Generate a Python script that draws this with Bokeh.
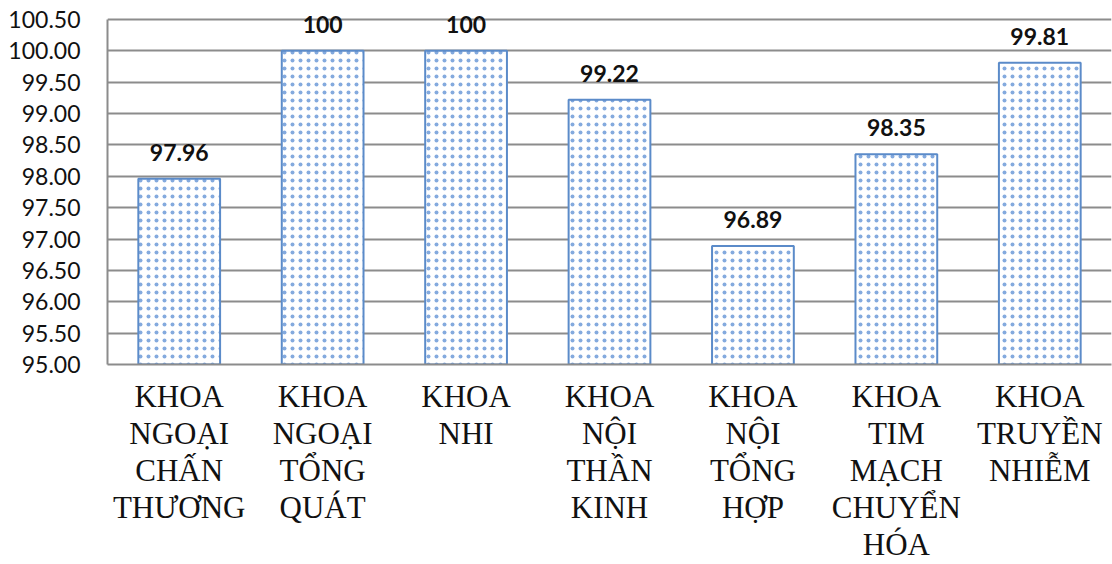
from bokeh.plotting import figure
from bokeh.models import ColumnDataSource, Range1d, FixedTicker, LabelSet, NumeralTickFormatter
from bokeh.core.properties import value
from bokeh.embed import file_html
from bokeh.resources import INLINE

categories = [
    "KHOA\nNGOẠI\nCHẤN\nTHƯƠNG",
    "KHOA\nNGOẠI\nTỔNG\nQUÁT",
    "KHOA\nNHI",
    "KHOA\nNỘI\nTHẦN\nKINH",
    "KHOA\nNỘI\nTỔNG\nHỢP",
    "KHOA\nTIM\nMẠCH\nCHUYỂN\nHÓA",
    "KHOA\nTRUYỀN\nNHIỄM",
]
values = [97.96, 100, 100, 99.22, 96.89, 98.35, 99.81]
value_labels = ["97.96", "100", "100", "99.22", "96.89", "98.35", "99.81"]
y_ticks = [95.0, 95.5, 96.0, 96.5, 97.0, 97.5, 98.0, 98.5, 99.0, 99.5, 100.0, 100.5]
y_min, y_max = 95.0, 100.5

source = ColumnDataSource(dict(cat=categories, val=values, lab=value_labels,
                               base=[y_min] * len(values)))

p = figure(width=1112, height=564, x_range=categories,
           y_range=Range1d(y_min, y_max + 0.11),
           output_backend="svg", toolbar_location=None,
           min_border_left=107, min_border_right=1, min_border_top=12, min_border_bottom=200)
p.outline_line_color = None
p.background_fill_color = "white"

p.vbar(x="cat", top="val", bottom="base", width=0.57, source=source,
       fill_color="white", line_color="#5b8bc9", line_width=2,
       hatch_pattern="dot", hatch_color="#6f9bd8", hatch_scale=8, hatch_weight=1,
       hatch_alpha=0.85)

labels = LabelSet(x="cat", y="val", text="lab", source=source, y_offset=18,
                  text_align="center", text_baseline="alphabetic",
                  text_font=value("Lato"), text_font_style="bold", text_font_size="23px",
                  text_color="#111111")
p.add_layout(labels)

p.xgrid.grid_line_color = None
p.ygrid.grid_line_color = "#8c8c8c"
p.ygrid.grid_line_width = 2
p.yaxis.ticker = FixedTicker(ticks=y_ticks)
p.yaxis.formatter = NumeralTickFormatter(format="0.00")
p.yaxis.bounds = (y_min, y_max)
p.yaxis.major_tick_line_color = None
p.yaxis.minor_tick_line_color = None
p.yaxis.axis_line_color = "#8c8c8c"
p.yaxis.axis_line_width = 2
p.yaxis.major_label_text_font = "Lato"
p.yaxis.major_label_text_font_size = "23px"
p.yaxis.major_label_text_color = "#111111"
p.yaxis.major_label_standoff = 21

p.xaxis.major_tick_line_color = None
p.xaxis.minor_tick_line_color = None
p.xaxis.axis_line_color = "#8c8c8c"
p.xaxis.axis_line_width = 2
p.xaxis.major_label_text_font = "Liberation Serif"
p.xaxis.major_label_text_font_size = "31px"
p.xaxis.major_label_text_color = "#111111"
p.xaxis.major_label_text_line_height = 1.06
p.xaxis.major_label_standoff = 8
p.x_range.range_padding = 0

open("out.html", "w").write(file_html(p, INLINE))
